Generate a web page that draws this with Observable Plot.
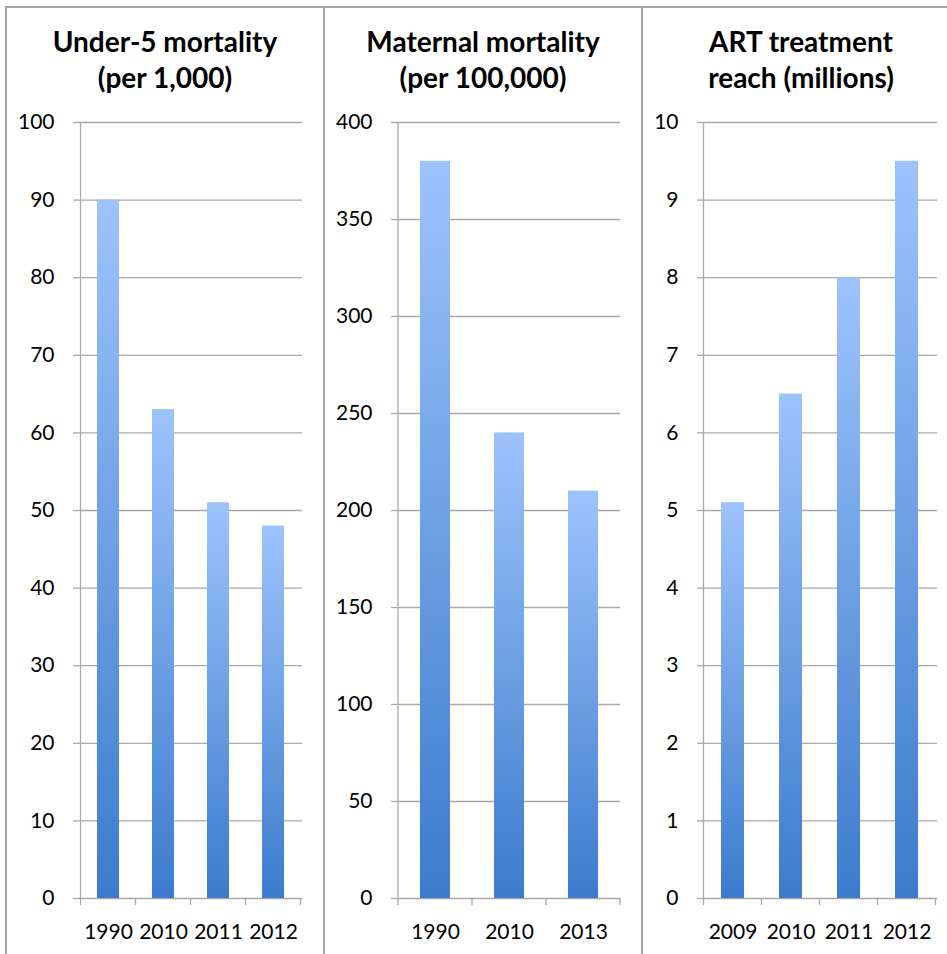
<!DOCTYPE html>
<html><head><meta charset="utf-8">
<script src="https://cdn.jsdelivr.net/npm/d3@7"></script>
<script src="https://cdn.jsdelivr.net/npm/@observablehq/plot@0.6"></script>
<style>
body{margin:0;background:#fff;overflow:hidden;font-family:Lato,"Open Sans",sans-serif;}
#wrap{position:relative;width:947px;height:954px;overflow:hidden;background:#fff;}
.panel{position:absolute;top:6px;height:1000px;border:2px solid #a5a5a5;box-sizing:border-box;}
.title{position:absolute;left:0;right:0;top:15px;text-align:center;font-weight:bold;font-size:28px;line-height:36px;color:#000;font-family:Lato,sans-serif;}
.chart{position:absolute;top:100px;}
</style></head>
<body>
<svg width="0" height="0" style="position:absolute">
  <defs>
    <linearGradient id="barGrad" x1="0" y1="0" x2="0" y2="1">
      <stop offset="0" stop-color="#9dc3fc"/>
      <stop offset="1" stop-color="#3c7bcd"/>
    </linearGradient>
  </defs>
</svg>
<div id="wrap"></div>
<script>
const titles = [["Under-5 mortality", "(per 1,000)"], ["Maternal mortality", "(per 100,000)"], ["ART treatment", "reach (millions)"]];

const under5Years = ["1990", "2010", "2011", "2012"];
const under5Values = [90, 63, 51, 48];
const under5Ticks = [0, 10, 20, 30, 40, 50, 60, 70, 80, 90, 100];

const maternalYears = ["1990", "2010", "2013"];
const maternalValues = [380, 240, 210];
const maternalTicks = [0, 50, 100, 150, 200, 250, 300, 350, 400];

const artYears = ["2009", "2010", "2011", "2012"];
const artValues = [5.1, 6.5, 8, 9.5];
const artTicks = [0, 1, 2, 3, 4, 5, 6, 7, 8, 9, 10];

const gridColor = "#a9a9a9";

const wrap = document.getElementById("wrap");

const panelDefs = [
  {left: 5, width: 320, borderLeft: true},
  {left: 325, width: 318, borderLeft: false},
  {left: 643, width: 318, borderLeft: false}
];
panelDefs.forEach((p, i) => {
  const d = document.createElement("div");
  d.className = "panel";
  d.style.left = p.left + "px";
  d.style.width = p.width + "px";
  if (!p.borderLeft) d.style.borderLeft = "none";
  const t = document.createElement("div");
  t.className = "title";
  t.innerHTML = titles[i][0] + "<br>" + titles[i][1];
  d.appendChild(t);
  wrap.appendChild(d);
});

function catTicks(domain) {
  return (index, scales, values, dims) => {
    const x = scales.x;
    const step = x.step(), bw = x.bandwidth();
    const y0 = dims.height - dims.marginBottom;
    const g = d3.create("svg:g").attr("stroke", gridColor).attr("stroke-width", 1.3);
    const edges = domain.map(d => x(d) + bw / 2 - step / 2);
    edges.push(x(domain[domain.length - 1]) + bw / 2 + step / 2);
    for (const e of edges) {
      g.append("line").attr("x1", e).attr("x2", e).attr("y1", y0).attr("y2", y0 + 7);
    }
    g.append("line").attr("x1", edges[0]).attr("x2", edges[0]).attr("y1", dims.marginTop).attr("y2", y0);
    return g.node();
  };
}

function panelChart(years, values, ticks, opts) {
  const data = years.map((y, i) => ({year: y, value: values[i]}));
  return Plot.plot({
    width: 316,
    height: 854,
    marginLeft: opts.marginLeft,
    marginRight: opts.marginRight,
    marginTop: 22,
    marginBottom: 56,
    style: {fontFamily: "Lato, 'Open Sans', sans-serif", fontSize: "21px", color: "#000", background: "transparent", overflow: "visible"},
    x: {domain: years, paddingInner: 0.6, paddingOuter: 0.3, label: null},
    y: {domain: [0, ticks[ticks.length - 1]], label: null},
    marks: [
      Plot.ruleY(ticks, {stroke: gridColor, strokeWidth: 1.3}),
      Plot.barY(data, {x: "year", y: "value", fill: "url(#barGrad)", style: "filter: drop-shadow(0px 0px 1.5px rgba(0,0,0,0.25))"}),
      catTicks(years),
      Plot.axisY({ticks: ticks, label: null, tickSize: 6, tickPadding: 19, stroke: gridColor, strokeWidth: 1.3, fill: "#000", tickFormat: d => String(d)}),
      Plot.axisX({label: null, tickSize: 0, tickPadding: 26, fill: "#000"})
    ]
  });
}

const charts = [
  {years: under5Years, values: under5Values, ticks: under5Ticks, left: 7, marginLeft: 72, marginRight: 21},
  {years: maternalYears, values: maternalValues, ticks: maternalTicks, left: 325, marginLeft: 72, marginRight: 21},
  {years: artYears, values: artValues, ticks: artTicks, left: 643, marginLeft: 60, marginRight: 22}
];
charts.forEach(c => {
  const svg = panelChart(c.years, c.values, c.ticks, c);
  svg.classList.add("chart");
  svg.style.position = "absolute";
  svg.style.left = c.left + "px";
  svg.style.top = "100px";
  wrap.appendChild(svg);
});
</script>
</body></html>
